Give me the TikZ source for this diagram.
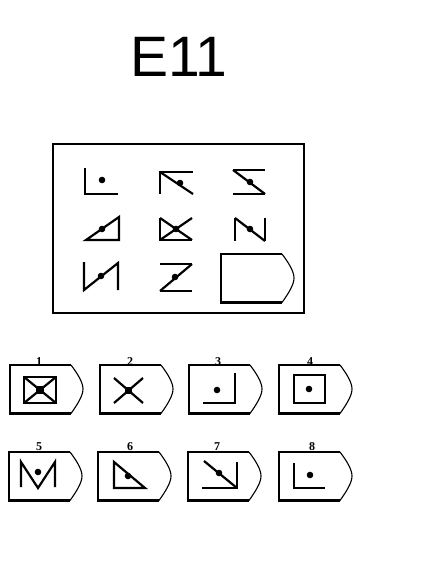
\documentclass[tikz,border=0pt]{standalone}
\usepackage{fontspec}
\setmainfont{Liberation Serif}
\newfontfamily\titlefont{Liberation Sans}
\begin{document}
\begin{tikzpicture}[x=1pt,y=-1pt,
  fig/.style={line width=2.2pt},
  frame/.style={line width=2.2pt},
  tipline/.style={line width=1.1pt},
  lbl/.style={font=\fontsize{12}{12}\selectfont\bfseries, inner sep=0pt, anchor=base},
  optbox/.pic={
    \draw[frame] (61,0) -- (0,0) -- (0,48.5) -- (61,48.5);
    \draw[tipline] (61,0) .. controls (67,8) and (73,17) .. (73,24) .. controls (73,31) and (67,40) .. (61,48.5);
  }]
\useasboundingbox (0,0) rectangle (444,564);
% title
\node[font=\titlefont\fontsize{57}{57}\selectfont, anchor=base, inner sep=0pt] (title) at (179,77) {E11};
% matrix frame
\draw[frame] (53,144) rectangle (304,313);
% cell 1
\draw[fig] (85,168) -- (85,194) -- (118,194);
\fill (102,180) circle (3.3pt);
% cell 2
\draw[fig] (193,172) -- (160,172) -- (160,194);
\draw[fig] (160,172) -- (193,194);
\fill (180,183) circle (3.3pt);
% cell 3
\draw[fig] (233,170) -- (265,170);
\draw[fig] (233,194) -- (265,194);
\draw[fig] (233,170) -- (265,194);
\fill (250,182) circle (3.3pt);
% cell 4
\draw[fig] (86,240) -- (119,240) -- (119,217) -- cycle;
\fill (102,229) circle (3.3pt);
% cell 5
\draw[fig] (160,218) -- (160,240) -- (192,240);
\draw[fig] (160,218) -- (192,240);
\draw[fig] (160,240) -- (192,218);
\fill (176,229) circle (3.3pt);
% cell 6
\draw[fig] (235,218) -- (235,241);
\draw[fig] (265,218) -- (265,241);
\draw[fig] (235,218) -- (265,241);
\fill (250,229) circle (3.3pt);
% cell 7
\draw[fig] (84,262) -- (84,290) -- (118,263) -- (118,290);
\fill (101,276) circle (3.3pt);
% cell 8
\draw[fig] (160,264) -- (192,264);
\draw[fig] (160,291) -- (192,291);
\draw[fig] (160,291) -- (192,264);
\fill (175,277) circle (3.3pt);
% cell 9 (answer slot)
\pic at (221,254) {optbox};

% options row 1
\pic at (10,365) {optbox};
\pic at (100,365) {optbox};
\pic at (189,365) {optbox};
\pic at (279,365) {optbox};
\node[lbl] (l1) at (39,365.5) {1};
\node[lbl] (l2) at (130,365.5) {2};
\node[lbl] (l3) at (218,365.5) {3};
\node[lbl] (l4) at (310,365.5) {4};
% option 1
\draw[fig] (24,377) rectangle (56,403);
\draw[fig] (24,377) -- (56,403);
\draw[fig] (24,403) -- (56,377);
\fill (36,386) rectangle (44,394);
% option 2
\draw[fig] (114,378) -- (143,403);
\draw[fig] (114,403) -- (143,378);
\fill (125,387) rectangle (132,394);
% option 3
\draw[fig] (203,403) -- (235,403) -- (235,373);
\fill (217,390) circle (3.3pt);
% option 4
\draw[fig] (294,375) rectangle (325,403);
\fill (309,389) circle (3.3pt);

% options row 2
\pic at (9,452) {optbox};
\pic at (98,452) {optbox};
\pic at (188,452) {optbox};
\pic at (279,452) {optbox};
\node[lbl] (l5) at (39,450) {5};
\node[lbl] (l6) at (130,450) {6};
\node[lbl] (l7) at (217,450) {7};
\node[lbl] (l8) at (312,450) {8};
% option 5
\draw[fig] (21,487) -- (21,462) -- (38,488) -- (55,462) -- (55,487);
\fill (38,472) circle (3.3pt);
% option 6
\draw[fig] (114,462) -- (114,488) -- (145,488) -- cycle;
\fill (128,476) circle (3.3pt);
% option 7
\draw[fig] (204,461) -- (237,488);
\draw[fig] (202,488) -- (237,488) -- (237,462);
\fill (219,473) circle (3.3pt);
% option 8
\draw[fig] (294,463) -- (294,488) -- (325,488);
\fill (310,475) circle (3.3pt);
\end{tikzpicture}
\end{document}
